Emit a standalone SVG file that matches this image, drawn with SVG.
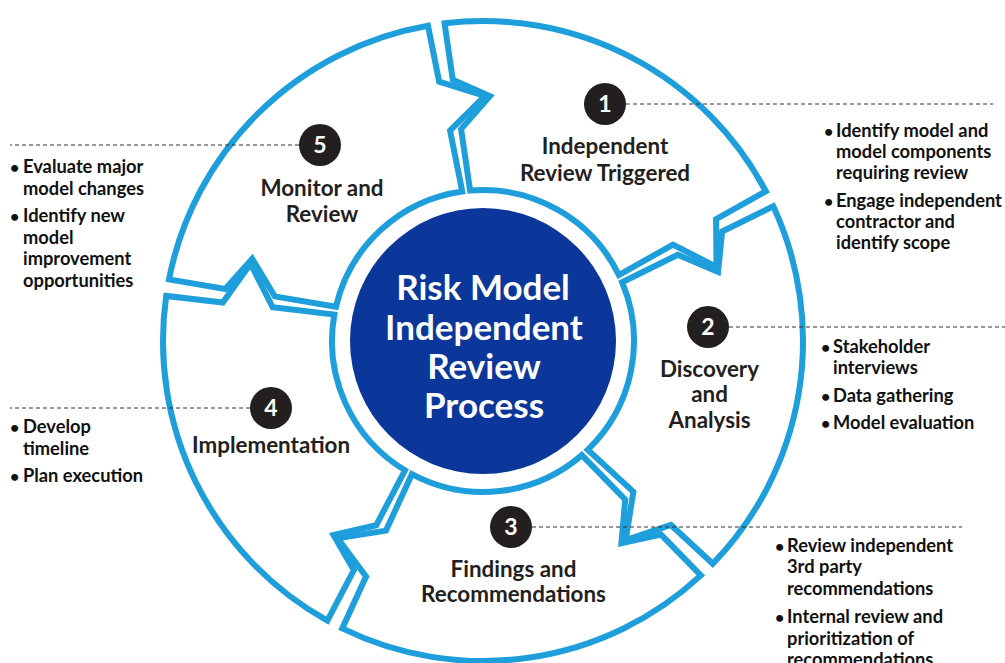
<svg xmlns="http://www.w3.org/2000/svg" xmlns:xlink="http://www.w3.org/1999/xlink" width="1005" height="663" viewBox="0 0 1005 663">
<style>
.seg{fill:#fff;stroke:#1e9fdb;stroke-width:6;stroke-linejoin:miter;stroke-miterlimit:10}
.num{fill:#231f20}
.numt{fill:#fff;font-family:Lato,'Open Sans',sans-serif;font-weight:700;font-size:23px;text-anchor:middle}
.lbl{fill:#231f20;font-family:Lato,'Open Sans',sans-serif;font-weight:700;font-size:22.4px;text-anchor:middle}
.ctr{fill:#fff;font-family:Lato,'Open Sans',sans-serif;font-weight:700;font-size:35px;text-anchor:middle}
.bul{fill:#111;font-family:Lato,'Open Sans',sans-serif;font-weight:700;font-size:18.3px}
.dot{fill:#111;font-family:Lato,'Open Sans',sans-serif;font-weight:700;font-size:16px}
.dash{stroke:#333;stroke-width:1;stroke-dasharray:4 3;fill:none}
</style>
<defs>
<path id="seg" class="seg" d="M319.89 8.38 A320 320 0 0 1 106.82 301.65 L86.49 248.37 L39.17 241.85 L67.59 201.99 L45.41 144.01 A151 151 0 0 0 150.72 9.22 L212.80 9.29 L241.28 42.54 L262.87 8.26 Z"/>
</defs>
<rect width="1005" height="663" fill="#fff"/>

<g id="node-1">
<use xlink:href="#seg" href="#seg" transform="translate(483 341) rotate(-98.4)"/>
</g>
<g id="node-2">
<use xlink:href="#seg" href="#seg" transform="translate(483 341) rotate(-26.4)"/>
</g>
<g id="node-3">
<use xlink:href="#seg" href="#seg" transform="translate(483 341) rotate(45.6)"/>
</g>
<g id="node-4">
<use xlink:href="#seg" href="#seg" transform="translate(483 341) rotate(117.6)"/>
</g>
<g id="node-5">
<use xlink:href="#seg" href="#seg" transform="translate(483 341) rotate(189.6)"/>
</g>

<g id="connectors">
<line class="dash" x1="626" y1="104" x2="993" y2="104"/>
<line class="dash" x1="729" y1="327" x2="1005" y2="327"/>
<line class="dash" x1="532" y1="527" x2="962" y2="527"/>
<line class="dash" x1="250" y1="408" x2="10" y2="408"/>
<line class="dash" x1="299" y1="145" x2="10" y2="145"/>
</g>

<g id="node-center">
<circle cx="483" cy="341" r="133" fill="#0c379a"/>
<text class="ctr" x="483" y="300">Risk Model</text>
<text class="ctr" x="484" y="340">Independent</text>
<text class="ctr" x="484" y="379">Review</text>
<text class="ctr" x="484" y="418">Process</text>
</g>

<g id="label-1">
<circle class="num" cx="605" cy="104" r="21"/>
<text class="numt" x="605" y="112">1</text>
<text class="lbl" x="605" y="154">Independent</text>
<text class="lbl" x="605" y="181">Review Triggered</text>
<text class="dot" x="824" y="137">•</text>
<text class="bul" x="836" y="137">Identify model and</text>
<text class="bul" x="836" y="158">model components</text>
<text class="bul" x="836" y="179">requiring review</text>
<text class="dot" x="824" y="207">•</text>
<text class="bul" x="836" y="207">Engage independent</text>
<text class="bul" x="836" y="228">contractor and</text>
<text class="bul" x="836" y="249">identify scope</text>
</g>

<g id="label-2">
<circle class="num" cx="708" cy="327" r="21"/>
<text class="numt" x="708" y="335">2</text>
<text class="lbl" x="709.5" y="377">Discovery</text>
<text class="lbl" x="709.5" y="402">and</text>
<text class="lbl" x="709.5" y="427.5">Analysis</text>
<text class="dot" x="821" y="353">•</text>
<text class="bul" x="833" y="353">Stakeholder</text>
<text class="bul" x="833" y="374">interviews</text>
<text class="dot" x="821" y="402">•</text>
<text class="bul" x="833" y="402">Data gathering</text>
<text class="dot" x="821" y="429">•</text>
<text class="bul" x="833" y="429">Model evaluation</text>
</g>

<g id="label-3">
<circle class="num" cx="511" cy="527" r="21"/>
<text class="numt" x="511" y="535">3</text>
<text class="lbl" x="513.5" y="577">Findings and</text>
<text class="lbl" x="513.5" y="602">Recommendations</text>
<text class="dot" x="775" y="552">•</text>
<text class="bul" x="787" y="552">Review independent</text>
<text class="bul" x="787" y="573">3rd party</text>
<text class="bul" x="787" y="595">recommendations</text>
<text class="dot" x="775" y="623">•</text>
<text class="bul" x="787" y="623">Internal review and</text>
<text class="bul" x="787" y="645">prioritization of</text>
<text class="bul" x="787" y="666">recommendations</text>
</g>

<g id="label-4">
<circle class="num" cx="271" cy="408" r="21"/>
<text class="numt" x="271" y="416">4</text>
<text class="lbl" x="271" y="453">Implementation</text>
<text class="dot" x="10" y="433">•</text>
<text class="bul" x="23" y="433">Develop</text>
<text class="bul" x="23" y="454.5">timeline</text>
<text class="dot" x="10" y="482">•</text>
<text class="bul" x="23" y="482">Plan execution</text>
</g>

<g id="label-5">
<circle class="num" cx="320" cy="145" r="21"/>
<text class="numt" x="320" y="153">5</text>
<text class="lbl" x="322" y="196">Monitor and</text>
<text class="lbl" x="322" y="222">Review</text>
<text class="dot" x="10" y="173">•</text>
<text class="bul" x="23" y="173">Evaluate major</text>
<text class="bul" x="23" y="194.5">model changes</text>
<text class="dot" x="10" y="222">•</text>
<text class="bul" x="23" y="222">Identify new</text>
<text class="bul" x="23" y="243.5">model</text>
<text class="bul" x="23" y="265">improvement</text>
<text class="bul" x="23" y="286.5">opportunities</text>
</g>
</svg>
